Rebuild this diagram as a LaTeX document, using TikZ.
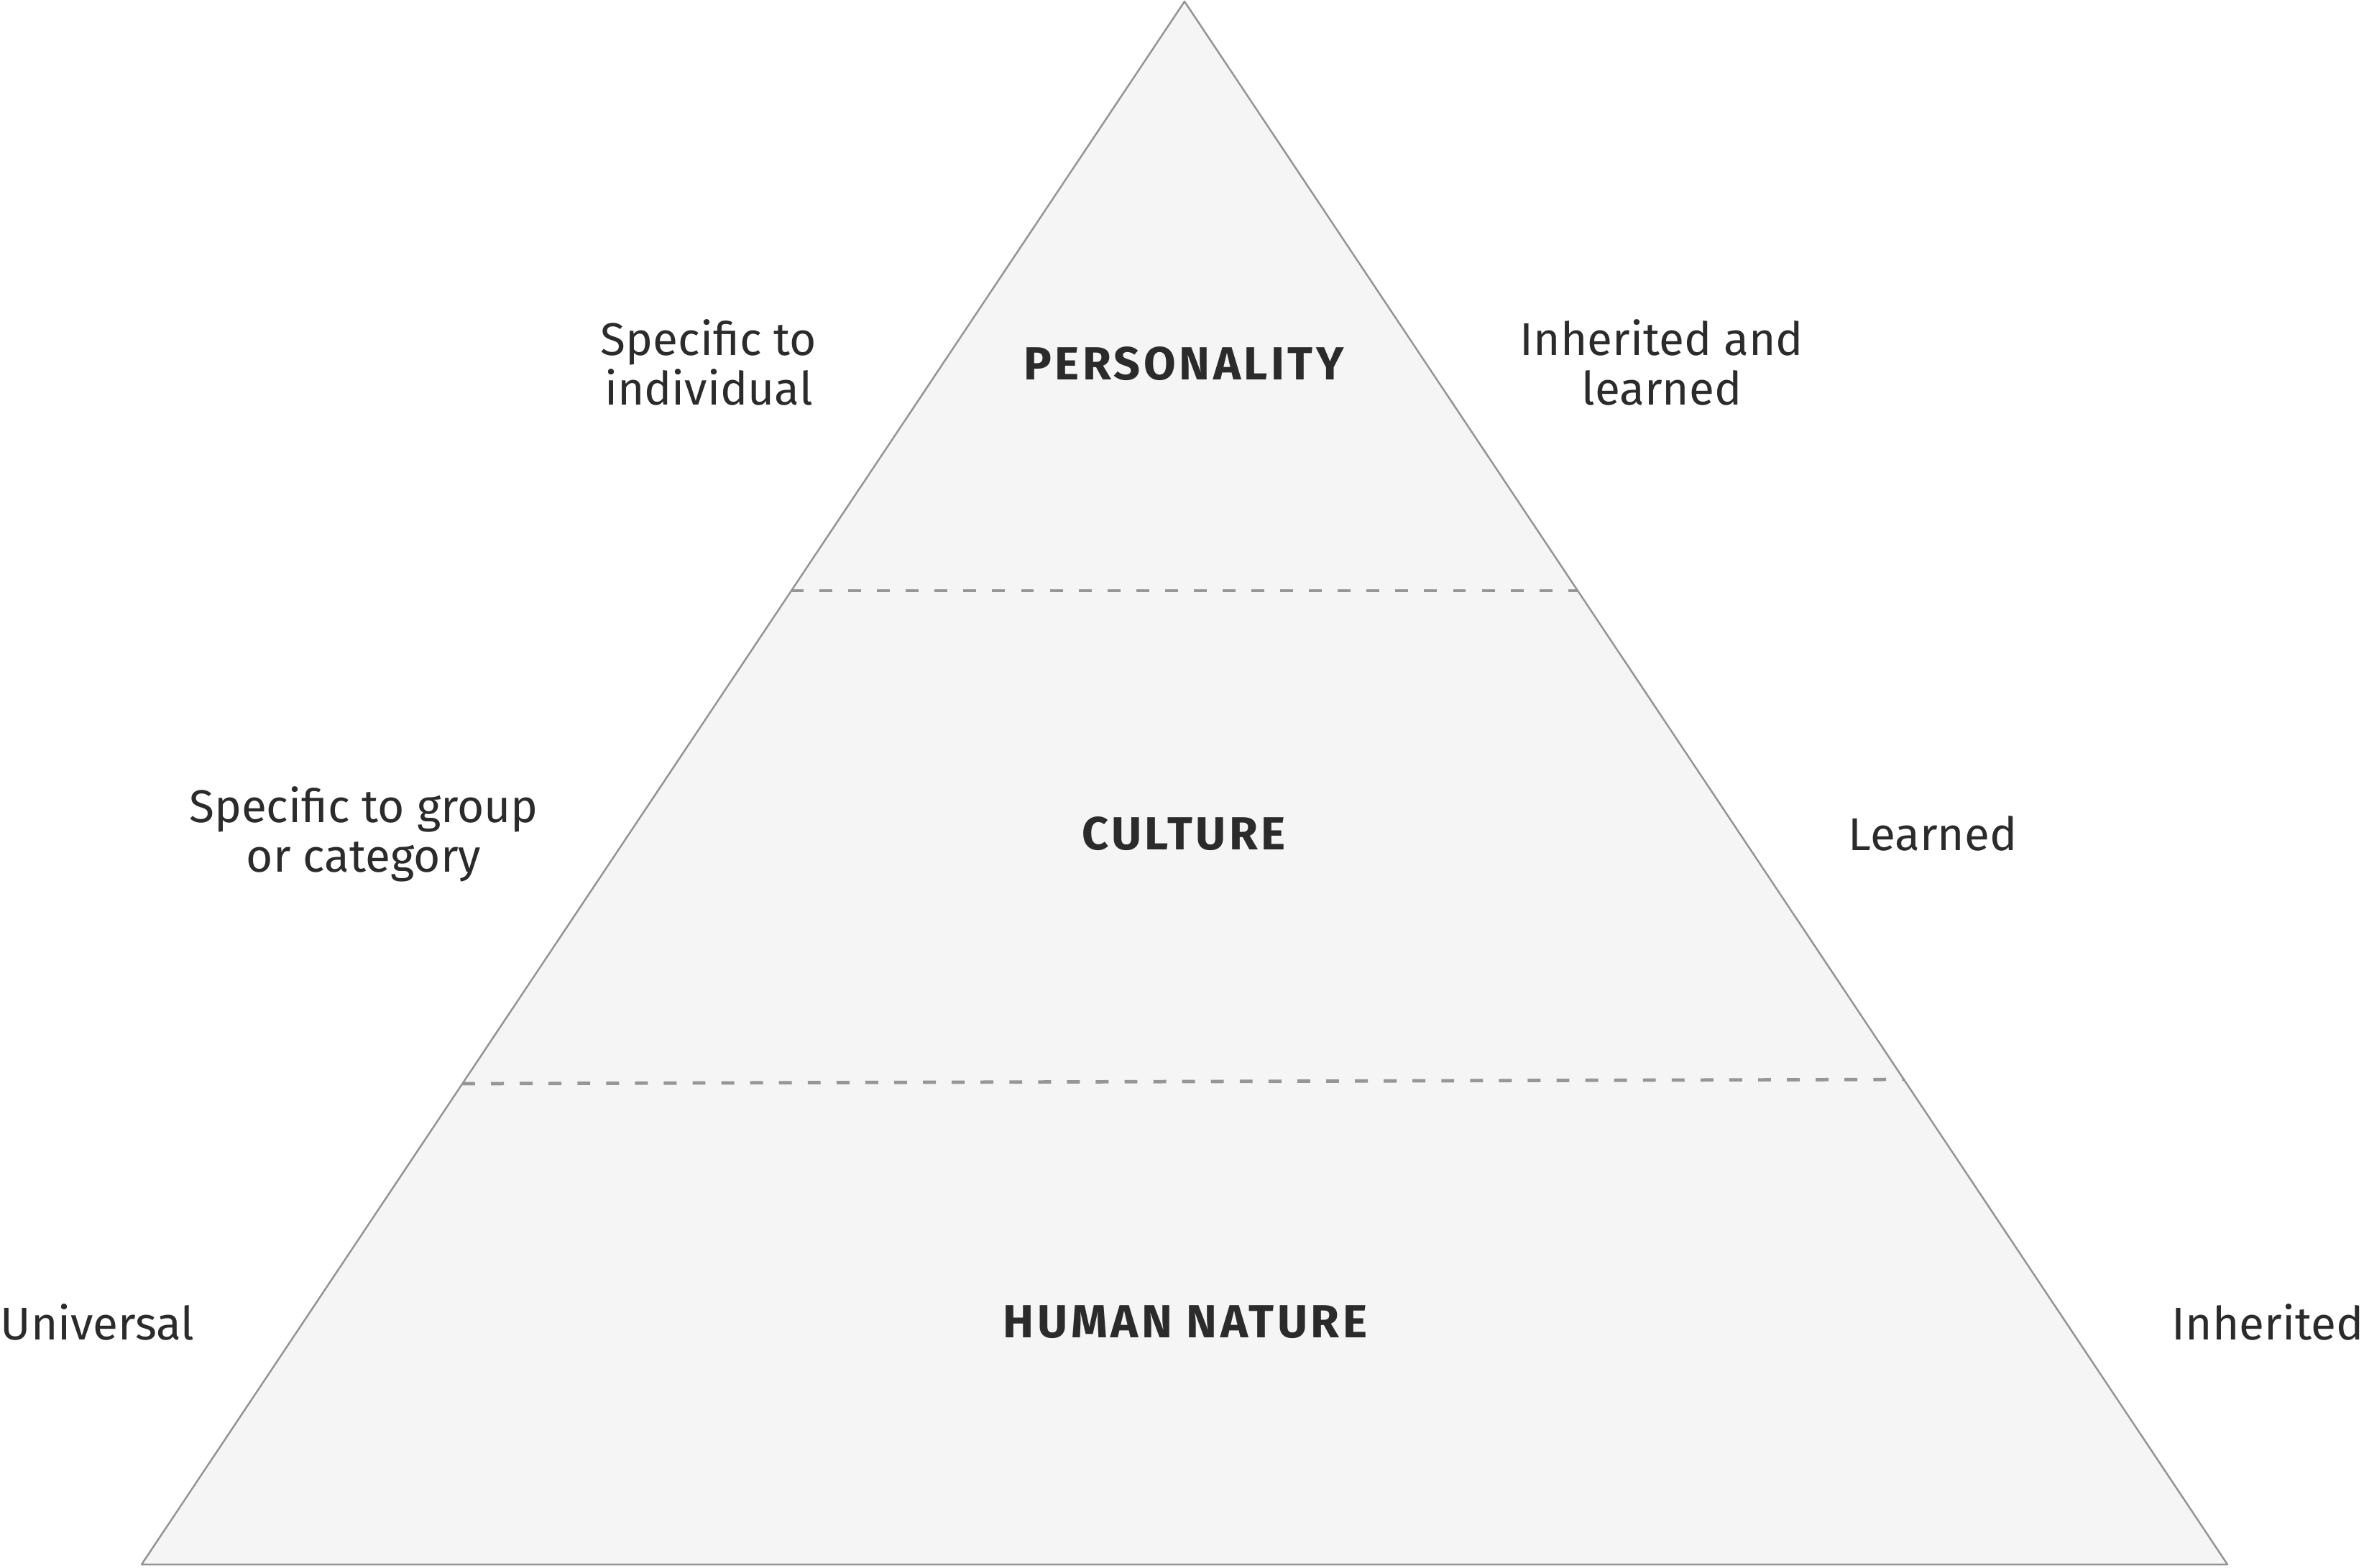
\documentclass[tikz,border=0pt]{standalone}
\usepackage{fontspec}
\setmainfont{Fira Sans}
\usetikzlibrary{calc}

\definecolor{layerfill}{HTML}{F5F5F5}
\definecolor{edgegray}{HTML}{949494}
\definecolor{dashgray}{HTML}{969696}
\definecolor{txtgray}{HTML}{2B2B2B}

\tikzset{
  layername/.style={inner sep=0, text=txtgray, font=\fontsize{18.4}{20}\selectfont\bfseries\addfontfeatures{LetterSpace=7}},
  sidenote/.style={inner sep=0, align=center, text=txtgray, font=\fontsize{18.2}{19.6}\selectfont},
  layersep/.style={draw=dashgray, line width=1.35pt, dash pattern=on 5.1pt off 6.3pt}
}

\begin{document}
\begin{tikzpicture}

\useasboundingbox (0cm,0cm) rectangle (32.89cm,-21.81cm);

% pyramid
\coordinate (apex) at (16.48cm,-0.02cm);
\coordinate (baseL) at (1.97cm,-21.77cm);
\coordinate (baseR) at (30.99cm,-21.77cm);
\filldraw [fill=layerfill, draw=edgegray, line width=.7pt, line join=round] (apex) -- (baseR) -- (baseL) -- cycle;

% layer borders
\coordinate (topL) at (11.00cm,-8.22cm);
\coordinate (topR) at (21.96cm,-8.22cm);
\coordinate (lowL) at (6.43cm,-15.08cm);
\coordinate (lowR) at (26.49cm,-15.02cm);
\draw [layersep] (topL) -- (topR);
\draw [layersep] (lowL) -- (lowR);

% layer names
\node (personality) at (16.47cm,-5.06cm) [layername] {PERSONALITY};
\node (culture) at (16.47cm,-11.60cm) [layername] {CULTURE};
\node (nature) at (16.49cm,-18.40cm) [layername] {HUMAN NATURE};

% left column
\node (indiv) at (9.86cm,-5.04cm) [sidenote] {Specific to\\individual};
\node (group) at (5.06cm,-11.61cm) [sidenote] {Specific to group\\or category};
\node (univ) at (0.00cm,-18.40cm) [sidenote, anchor=west] {Universal};

% right column
\node (inhlearn) at (23.12cm,-5.04cm) [sidenote] {Inherited and\\learned};
\node (learned) at (26.89cm,-11.60cm) [sidenote] {Learned};
\node (inh) at (32.89cm,-18.40cm) [sidenote, anchor=east] {Inherited};

\end{tikzpicture}
\end{document}
